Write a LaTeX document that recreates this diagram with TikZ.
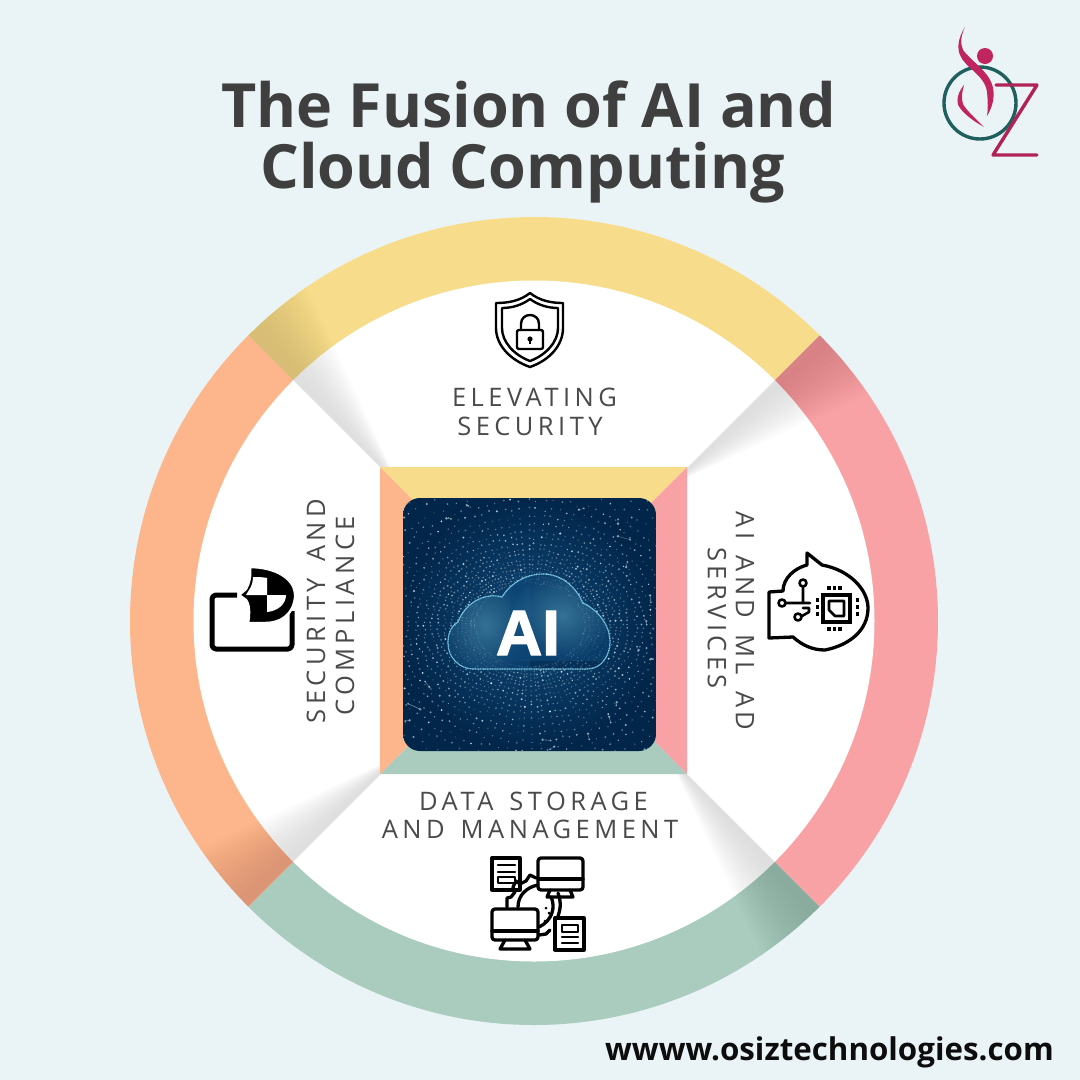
\documentclass[tikz,border=0pt]{standalone}
\usepackage{fontspec}
\setmainfont{Open Sans}
\newfontfamily\labfont[LetterSpace=17.5,WordSpace=1.45]{Open Sans}
\newfontfamily\aifont[FakeBold=2.2]{Liberation Sans Bold}
\definecolor{bgc}{HTML}{EAF4F6}
\definecolor{yellowc}{HTML}{F7DD8B}
\definecolor{pinkc}{HTML}{F9A2A6}
\definecolor{greenc}{HTML}{A9CCBE}
\definecolor{orangec}{HTML}{FDB68C}
\definecolor{titlec}{HTML}{3F3F3F}
\definecolor{labc}{HTML}{4A4A4A}
\definecolor{imgin}{HTML}{0E4A7A}
\definecolor{imgout}{HTML}{02264A}
\definecolor{dotc}{HTML}{E4F6FC}
\definecolor{cloudc}{HTML}{7CCBE6}
\definecolor{tealc}{HTML}{1F5F5E}
\definecolor{rosec}{HTML}{C0255F}
\tikzset{
  titletext/.style={anchor=base,font=\bfseries\fontsize{61}{61}\selectfont,text=titlec,inner sep=0pt},
  labeltext/.style={anchor=center,font=\labfont\fontsize{25.5}{25.5}\selectfont,text=labc,inner sep=0pt},
  icon/.style={draw=black,line width=3.3pt,line join=round,line cap=round},
  thinicon/.style={draw=black,line width=2.6pt,line join=round,line cap=round},
  shieldline/.style={draw=black,line width=2.4pt,line join=round,line cap=round},
}
\begin{document}
\begin{tikzpicture}[x=1pt,y=-1pt]
\useasboundingbox (0,0) rectangle (1080,1080);
\fill[bgc] (0,0) rectangle (1080,1080);

% ring
\begin{scope}[shift={(534,621)}]
\fill[yellowc] (0,0) -- (225:404) arc (225:315:404) -- cycle;
\fill[pinkc] (0,0) -- (315:404) arc (315:405:404) -- cycle;
\fill[greenc] (0,0) -- (45:404) arc (45:135:404) -- cycle;
\fill[orangec] (0,0) -- (135:404) arc (135:225:404) -- cycle;
\fill[white] (0,0) circle (340.5);
\begin{scope}
\clip (0,0) circle (404);
\foreach \th in {225,315,45,135}{
  \foreach \i in {1,...,16}{
    \pgfmathsetmacro\del{\th+11*(\i/16)^0.6}
    \fill[black,opacity=.0062] (\th:190) -- (\th:404) -- (\del:412) -- cycle;
  }
}
\end{scope}
\end{scope}

% centre square
\fill[yellowc] (380,467) -- (687,467) -- (533.5,620.5) -- cycle;
\fill[pinkc] (687,467) -- (687,774) -- (533.5,620.5) -- cycle;
\fill[greenc] (687,774) -- (380,774) -- (533.5,620.5) -- cycle;
\fill[orangec] (380,774) -- (380,467) -- (533.5,620.5) -- cycle;

% AI picture
\begin{scope}
\clip[rounded corners=17pt] (403,498) rectangle (656,751);
\shade[inner color=imgin,outer color=imgout] (403,498) rectangle (656,751);
\pgfmathsetseed{4242}
\begin{scope}[shift={(530,625)}]
\foreach \ang in {0,3,...,357}{
  \pgfmathsetmacro\ang{\ang+1.2*rnd}
  \foreach \k in {0,...,20}{
    \pgfmathsetmacro\rad{48*1.075^\k*(0.98+0.04*rnd)}
    \pgfmathsetmacro\rx{1.15*\rad}
    \pgfmathsetmacro\ry{0.88*\rad}
    \pgfmathtruncatemacro\p{30+68*rnd*rnd}
    \pgfmathsetmacro\sz{0.55+0.6*rnd}
    \fill[dotc!\p!imgout] (\ang:\rx pt and \ry pt) circle (\sz);
  }
}
\foreach \n in {1,...,60}{
  \pgfmathsetmacro\an{360*rnd}
  \pgfmathsetmacro\rad{110+90*rnd}
  \pgfmathsetmacro\dan{\an+10*(rnd-.5)}
  \pgfmathsetmacro\drad{\rad+14*(rnd-.5)}
  \pgfmathtruncatemacro\p{25+35*rnd}
  \draw[dotc!\p!imgout,line width=.5pt] (\an:\rad) -- (\dan:\drad);
  \fill[dotc!60!imgout] (\an:\rad) circle (1.3);
  \fill[dotc!60!imgout] (\dan:\drad) circle (1);
}
\end{scope}
\end{scope}
% cloud
\begin{scope}
\clip (473,669) -- (587,669)
  .. controls (602,669) and (610,655) .. (610,642)
  .. controls (610,625) and (598,610) .. (583,603)
  .. controls (575,585) and (560,574) .. (543,574)
  .. controls (525,574) and (510,584) .. (502,597)
  .. controls (485,592) and (465,603) .. (458,622)
  .. controls (450,627) and (448,635) .. (448,643)
  .. controls (448,658) and (460,669) .. (473,669) -- cycle;
\fill[imgout,opacity=.45] (440,570) rectangle (620,675);
\shade[inner color=cloudc!70!imgin,outer color=imgin,opacity=.55] (440,575) rectangle (530,675);
\shade[inner color=cloudc!70!imgin,outer color=imgin,opacity=.55] (510,570) rectangle (615,660);
\end{scope}
\path[draw=cloudc,line width=1.2pt,dash pattern=on 1.2pt off .5pt]
  (473,669) -- (587,669)
  .. controls (602,669) and (610,655) .. (610,642)
  .. controls (610,625) and (598,610) .. (583,603)
  .. controls (575,585) and (560,574) .. (543,574)
  .. controls (525,574) and (510,584) .. (502,597)
  .. controls (485,592) and (465,603) .. (458,622)
  .. controls (450,627) and (448,635) .. (448,643)
  .. controls (448,658) and (460,669) .. (473,669) -- cycle;
\node[anchor=base,inner sep=0pt,font=\aifont\fontsize{64}{64}\selectfont,text=white] (ailabel) at (528,655) {AI};

% titles
\node[titletext] (title1) at (528.5,127) {The Fusion of AI and};
\node[titletext] (title2) at (522.5,188) {Cloud Computing};

% labels
\node[labeltext] (elev1) at (534.5,397) {ELEVATING};
\node[labeltext] (elev2) at (530,426) {SECURITY};
\node[labeltext] (data1) at (533.5,801) {DATA STORAGE};
\node[labeltext] (data2) at (530,829) {AND MANAGEMENT};
\node[labeltext,rotate=90] (sec1) at (316,611) {SECURITY AND};
\node[labeltext,rotate=90] (sec2) at (345,616) {COMPLIANCE};
\node[labeltext,rotate=-90] (ai1) at (745,621) {AI AND ML AD};
\node[labeltext,rotate=-90] (ai2) at (717,618) {SERVICES};

% url
\node[anchor=base,inner sep=0pt,font=\bfseries\fontsize{31.3}{31.3}\selectfont,text=black!95] (url) at (829.5,1060) {wwww.osiztechnologies.com};

% shield icon
\path[shieldline] (530,293) .. controls (520,301) and (508,303) .. (496,303) -- (496,328) .. controls (496,345) and (510,360) .. (530,367) .. controls (550,360) and (563,345) .. (563,328) -- (563,303) .. controls (552,303) and (540,301) .. (530,293) -- cycle;
\path[shieldline] (530,299) .. controls (522,305) and (512,308) .. (502,308) -- (502,328) .. controls (502,342) and (514,355) .. (530,361) .. controls (546,355) and (558,342) .. (558,328) -- (558,308) .. controls (548,308) and (538,305) .. (530,299) -- cycle;
\draw[shieldline,rounded corners=2pt] (517,330) rectangle (543,349);
\path[shieldline] (521,330) -- (521,324) .. controls (521,312) and (539,312) .. (539,324) -- (539,330);
\fill[black] (530,339) circle (2.6);
\draw[black,line width=1.6pt] (530,340) -- (530,344);

% folder / shield icon
\path[draw=black,line width=5pt,line join=round,line cap=butt,rounded corners=4pt] (237,595) -- (212,595) -- (212,649) -- (292,649) -- (292,611);
\path[fill=black,draw=white,line width=2.5pt,line join=round] (250,567) .. controls (274,567) and (297,578) .. (295,598) .. controls (293,615) and (280,623) .. (266,623) -- (248,623) .. controls (250,612) and (249,604) .. (246,600) -- (239,595) -- (246,589) .. controls (249,584) and (251,576) .. (250,567) -- cycle;
\fill[white] (253,577) .. controls (258,577) and (263,577) .. (267,578) -- (267,595) -- (246,595) -- (249,590) .. controls (252,586) and (253,581) .. (253,577) -- cycle;
\fill[white] (267,595) -- (286,595) .. controls (286,604) and (278,611) .. (267,612) -- cycle;

% head icon
\path[icon] (769,592) -- (783,591) .. controls (783,578) and (795,568) .. (807,565) -- (807,553) -- (822,565) .. controls (850,570) and (868,590) .. (868,608) .. controls (868,630) and (850,645) .. (825,650) .. controls (812,650) and (802,645) .. (793,637) -- (769,638) -- cycle;
\draw[thinicon] (803,583) circle (3.5);
\draw[thinicon] (782,603) circle (3.5);
\draw[thinicon] (798,617) circle (3.5);
\draw[thinicon] (803,587) -- (803,603) (786,603) -- (810,603) (802,616) -- (809,612) -- (809,608) -- (803,608);
\draw[black,line width=3.2pt,line join=miter] (823,595) rectangle (850,622);
\path[thinicon] (829,601) -- (844,601) -- (844,616) -- (835,616) -- (829,610) -- cycle;
\foreach \px in {829,834.5,840}{\fill[black] (\px-1.6,586) rectangle (\px+1.6,589.5);\fill[black] (\px-1.6,627) rectangle (\px+1.6,630.5);}
\foreach \py in {600,607,614}{\fill[black] (855.5,\py-1.6) rectangle (859,\py+1.6);\fill[black] (815.5,\py-1.6) rectangle (819,\py+1.6);}

% data icon
\draw[icon] (492,858) rectangle (520,890);
\draw[thinicon] (498,865) -- (515,865) (498,872) -- (515,872);
\draw[thinicon] (498,877) rectangle (515,883);
\draw[icon,rounded corners=3pt] (538,858) rectangle (583,890);
\draw[icon] (538,879) -- (583,879);
\path[icon] (550,890) -- (547,897) -- (573,897) -- (570,890);
\draw[icon,rounded corners=3pt] (492,909) rectangle (538,940);
\draw[icon] (492,931) -- (538,931);
\path[icon] (505,940) -- (500,949) -- (530,949) -- (525,940);
\draw[icon] (555,918) rectangle (584,950);
\draw[thinicon] (562,925) rectangle (578,932);
\draw[thinicon] (562,937) -- (578,937) (562,943) -- (578,943);
\path[icon] (538,885) .. controls (527,887) and (518,895) .. (518,907);
\path[icon] (536,878) -- (530,875) -- (526,881) -- (520,884) -- (516,881) -- (513,887) -- (515,892) -- (511,897) -- (507,898) -- (507,907);
\path[icon] (551,897) .. controls (556,907) and (552,921) .. (539,927);
\path[icon] (558,893) .. controls (561,900) and (561,908) .. (558,916);
\path[icon] (539,935) -- (546,934) -- (550,930);
\fill[black] (546,908) circle (1.5) (549,913) circle (1.5) (545,921) circle (1.5);

% logo
\draw[tealc,line width=3.4pt] (980,103) circle (36);
\fill[rosec] (985,56) circle (8);
\path[draw=rosec!92!black,line width=3.4pt,line join=round,line cap=round] (996,85) -- (1037,85) -- (993,155) -- (1037,155);
\fill[rosec] (965,27) .. controls (958,38) and (957,48) .. (960,55) .. controls (965,68) and (985,75) .. (987,92) .. controls (988,102) and (988,110) .. (987,116) .. controls (992,108) and (995,98) .. (993,88) .. controls (990,72) and (972,62) .. (963,50) .. controls (960,43) and (961,35) .. (965,27) -- cycle;
\fill[rosec] (964,85) .. controls (958,92) and (955,102) .. (960,108) .. controls (965,115) and (975,122) .. (984,127) .. controls (975,118) and (966,110) .. (963,104) .. controls (961,98) and (962,92) .. (964,85) -- cycle;
\end{tikzpicture}
\end{document}
